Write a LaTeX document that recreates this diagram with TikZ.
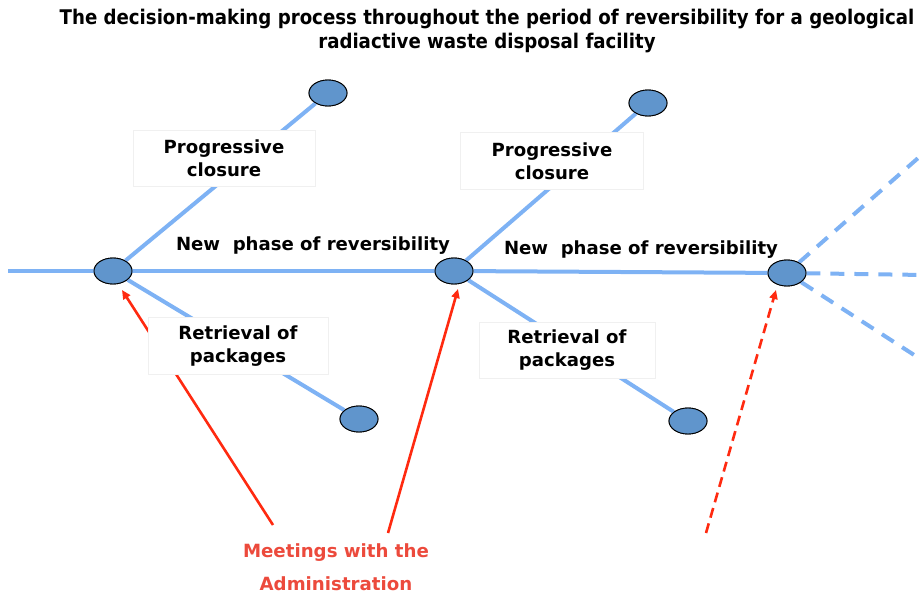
\documentclass[tikz,border=0pt]{standalone}
\usepackage{fontspec}
\setmainfont{DejaVu Sans}
\newfontfamily\titlefont{DejaVu Sans Condensed}
\usetikzlibrary{arrows.meta,shapes.geometric}
\definecolor{lineblue}{HTML}{7EB2F4}
\definecolor{nodeblue}{HTML}{6095CC}
\definecolor{arrred}{HTML}{FF2A10}
\definecolor{txtred}{HTML}{EC4A3C}
\tikzset{
  branch/.style={draw=lineblue, line width=4pt},
  futbranch/.style={draw=lineblue, line width=4pt, dash pattern=on 14pt off 10pt},
  junction/.style={ellipse, draw=black, line width=0.9pt, fill=nodeblue, minimum width=38pt, minimum height=26pt, inner sep=0pt},
  labelbox/.style={fill=white, draw=black!6, line width=0.6pt, align=center, font=\bfseries\fontsize{18.1}{23}\selectfont, inner sep=0pt},
  phaselabel/.style={font=\bfseries\fontsize{18.1}{23}\selectfont, inner sep=0pt},
  meeting/.style={draw=arrred, line width=2.6pt, -{Triangle[length=9pt,width=8pt]}},
  meetingdash/.style={draw=arrred, line width=2.6pt, dash pattern=on 10pt off 6pt, -{Triangle[length=9pt,width=8pt]}},
}
\begin{document}
\begin{tikzpicture}[x=1pt,y=-1pt]
\useasboundingbox (0,0) rectangle (919,596);
% title
\node[font=\titlefont\bfseries\fontsize{20.2}{23.5}\selectfont, align=center, inner sep=0pt] (title) at (487,31)
  {The decision-making process throughout the period of reversibility for a geological\\radiactive waste disposal facility};
% junctions
\coordinate (start) at (8,271);
\node[junction] (e1) at (113,271) {};
\node[junction] (e2) at (454,271) {};
\node[junction] (e3) at (787,273) {};
\node[junction] (t1) at (328,93) {};
\node[junction] (t2) at (648,103) {};
\node[junction] (b1) at (359,419) {};
\node[junction] (b2) at (688,421) {};
\coordinate (d1) at (925,152);
\coordinate (d2) at (925,275);
\coordinate (d3) at (925,362);
% branches
\draw[branch] (start) -- (e1);
\draw[branch] (e1) -- (e2);
\draw[branch] (e2) -- (e3);
\draw[branch] (e1) -- (t1);
\draw[branch] (e1) -- (b1);
\draw[branch] (e2) -- (t2);
\draw[branch] (e2) -- (b2);
\draw[futbranch] (e3) -- (d1);
\draw[futbranch] (e3) -- (d2);
\draw[futbranch] (e3) -- (d3);
% meetings arrows
\coordinate (m1) at (273,525);
\coordinate (m2) at (388,533);
\coordinate (m3) at (706,533);
\coordinate (a1) at (122,290);
\coordinate (a2) at (458,289);
\coordinate (a3) at (776,290);
\draw[meeting] (m1) -- (a1);
\draw[meeting] (m2) -- (a2);
\draw[meetingdash] (m3) -- (a3);
% redraw junctions on top
\foreach \p in {{113,271},{454,271},{787,273},{328,93},{648,103},{359,419},{688,421}}
  \node[junction] at (\p) {};
% label boxes
\node[labelbox, minimum width=182pt, minimum height=56pt] (pc1) at (224,158) {Progressive\\closure};
\node[labelbox, minimum width=183pt, minimum height=57pt] (pc2) at (552,161) {Progressive\\closure};
\node[labelbox, minimum width=180pt, minimum height=57pt] (rp1) at (238,346) {Retrieval of\\packages};
\node[labelbox, minimum width=176pt, minimum height=56pt] (rp2) at (567,350) {Retrieval of\\packages};
\node[phaselabel] (np1) at (313,246) {New\ \ phase of reversibility};
\node[phaselabel] (np2) at (641,250) {New\ \ phase of reversibility};
% meetings text
\node[font=\bfseries\fontsize{18.2}{33}\selectfont, text=txtred, align=center, inner sep=0pt] (meet) at (336,567) {Meetings with the\\Administration};
\end{tikzpicture}
\end{document}
